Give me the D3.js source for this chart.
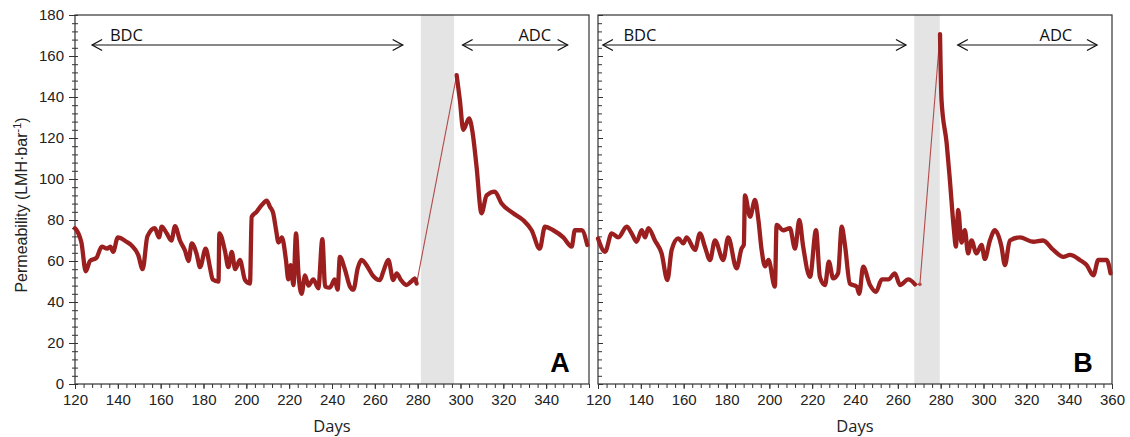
<!DOCTYPE html>
<html>
<head>
<meta charset="utf-8">
<script src="https://cdn.jsdelivr.net/npm/d3@7"></script>
<style>
  body { margin: 0; background: #fff; }
  svg { display: block; }
  .tick text { font-family: "Liberation Sans", Arial, sans-serif; font-size: 15px; fill: #222; }
</style>
</head>
<body>
<svg id="chart" width="1130" height="437"></svg>
<script>
// Panel A, before cleaning (BDC)
var daysA_BDC = [120, 123, 125, 127, 130, 132.5, 135, 136.5, 137.8, 140, 144, 146.5, 149.5, 151.6, 153.8, 157.3, 159.2, 160.5, 162.8, 165, 166.7, 169, 171.4, 173, 174.5, 176.8, 178.4, 181, 183, 184.3, 187, 187.4, 190, 191.6, 193.2, 194.8, 197, 199.4, 201.7, 202.5, 204.8, 207.2, 209.5, 211, 212.6, 213.9, 215, 216.6, 218.5, 219.6, 220.7, 222, 223.2, 224.4, 225.8, 227.4, 229, 231.3, 233.6, 235.5, 236.8, 239, 241.3, 242.6, 243.7, 246, 248.4, 250, 252, 253.8, 256.7, 259, 262.4, 264, 266.3, 268.6, 270.2, 272, 274.8, 277, 278.7, 279.5];
var permA_BDC = [76, 69, 55, 60, 61.5, 67, 66, 67, 64.5, 71.5, 69.4, 67.5, 63, 56, 72, 76, 71.5, 76.7, 73.5, 70, 77, 70, 65, 60, 68.6, 63.4, 57, 66, 57, 51, 50, 73.5, 65, 57, 64.5, 56, 60.5, 50.7, 49, 81.6, 84, 87.3, 89.4, 86.5, 83, 75, 69, 71.5, 60.5, 51, 58, 48.3, 73.5, 53, 44, 53, 48, 51, 46.7, 70.6, 47.5, 47, 51, 46, 62, 56, 47.5, 46, 56.4, 60.5, 57, 53, 50.7, 55, 60.5, 50.7, 54, 51, 48.3, 50, 51.5, 49];
// Panel A, after cleaning (ADC)
var daysA_ADC = [298.2, 299.7, 301.3, 304, 305.6, 307.5, 309.8, 312.2, 316, 319.2, 324.6, 329.2, 333.2, 337, 339.4, 343.3, 348, 351.9, 353.4, 356.6, 359.2];
var permA_ADC = [150.7, 138.5, 124, 129.6, 123, 106, 83.3, 92, 93.8, 88, 83.3, 80, 75, 66, 76.7, 75, 71.5, 67, 75, 75, 67.8];

// Panel B, before cleaning (BDC)
var daysB_BDC = [120, 123.3, 126.4, 129.5, 133.4, 135.7, 138, 140.4, 142, 143.5, 146.6, 149.7, 152.4, 154.4, 157.5, 159.8, 161.4, 165.3, 167.6, 169.9, 172.3, 174.6, 178.5, 180.8, 184.7, 187, 188.1, 188.6, 191, 193.3, 194.9, 196.4, 198, 199.6, 202.6, 203.4, 206.5, 209.6, 212, 214, 215.8, 219, 221.8, 223.6, 226, 227.8, 229.8, 232.1, 233.8, 235.4, 237.6, 240.8, 242, 243.8, 247, 249.8, 252.5, 255.6, 258.6, 261, 264.9, 268];
var permB_BDC = [71, 64.5, 73.5, 71.5, 76.7, 73.5, 69.4, 75, 71.5, 76, 70, 63.7, 50.7, 65.4, 71, 68.6, 71.5, 65.4, 73.5, 67, 60.5, 70, 60.5, 71.5, 56.4, 66, 68, 92, 81.6, 89.8, 80, 65.4, 57.4, 60.5, 47.5, 77.6, 75, 76, 66, 80, 67, 52.3, 75, 52.3, 48.3, 59.7, 51.5, 54, 76.7, 67, 49, 47.5, 44, 57.2, 48.3, 45, 51, 51, 54, 48.3, 51, 48.6];
// Panel B, single point inside the cleaning period
var daysB_gap = [270.3];
var permB_gap = [48.6];
// Panel B, after cleaning (ADC)
var daysB_ADC = [279.7, 280.4, 282.8, 284.3, 286.2, 287.1, 288.2, 289.7, 291.3, 292.8, 294.4, 296.7, 299.1, 300.6, 303, 305.3, 308.4, 310, 312.3, 317, 323.2, 327.8, 332.6, 337.3, 340.4, 345, 348.2, 351.3, 353.6, 357.5, 359.3];
var permB_ADC = [170.7, 138.5, 117.4, 99.5, 75, 67, 84.9, 69, 75, 63.7, 70, 63.7, 67.8, 61, 70, 75, 67, 58, 70, 71.5, 69.4, 70, 65.4, 62, 63, 60.5, 58, 53, 60.5, 60.5, 54];

// cleaning periods (shaded) in days
var cleanA = [281.5, 297];
var cleanB = [267.7, 279.6];

// annotation arrows in days: [start, end, label position]
var bdcA = [128, 273, 144], adcA = [301, 350, 334.7];
var bdcB = [122.3, 263.8, 139.6], adcB = [288, 353, 333.8];

var xTicksA = d3.range(120, 341, 20);
var xTicksB = d3.range(120, 361, 20);
var yTicks = d3.range(0, 181, 20);

var lineColor = "#9c1f1f";
var svg = d3.select("#chart");

var plotTop = 15, plotBottom = 384;
var y = d3.scaleLinear().domain([0, 180]).range([plotBottom, plotTop]);

function drawPanel(opt) {
    var x = d3.scaleLinear().domain([120, 360]).range([opt.left, opt.right]);
    var g = svg.append("g");

    // shaded cleaning period
    g.append("rect")
        .attr("x", x(opt.clean[0]))
        .attr("y", plotTop)
        .attr("width", x(opt.clean[1]) - x(opt.clean[0]))
        .attr("height", plotBottom - plotTop)
        .attr("fill", "#e4e4e4");

    // minor x ticks
    g.append("g")
        .attr("transform", "translate(0," + plotBottom + ")")
        .call(d3.axisBottom(x).tickValues(d3.range(120, 361, 4)).tickFormat("").tickSize(4).tickSizeOuter(0))
        .call(function(s) { s.select(".domain").remove(); s.selectAll("line").attr("stroke", "#333"); });
    // major x ticks
    g.append("g")
        .attr("transform", "translate(0," + plotBottom + ")")
        .call(d3.axisBottom(x).tickValues(opt.xTicks).tickFormat(d3.format("d")).tickSize(5).tickSizeOuter(0).tickPadding(5))
        .call(function(s) { s.select(".domain").remove(); s.selectAll("line").attr("stroke", "#333"); });

    // minor y ticks
    g.append("g")
        .attr("transform", "translate(" + opt.left + ",0)")
        .call(d3.axisLeft(y).tickValues(d3.range(0, 181, 4)).tickFormat("").tickSizeOuter(0))
        .call(function(s) {
            s.select(".domain").remove();
            s.selectAll("line").attr("stroke", "#333")
                .attr("x1", opt.yLabels ? -3 : 0).attr("x2", opt.yLabels ? 3 : 4);
        });
    // major y ticks
    g.append("g")
        .attr("transform", "translate(" + opt.left + ",0)")
        .call(d3.axisLeft(y).tickValues(yTicks).tickFormat(opt.yLabels ? d3.format("d") : "").tickSize(opt.yLabels ? 6 : -5).tickSizeOuter(0).tickPadding(5))
        .call(function(s) { s.select(".domain").remove(); s.selectAll("line").attr("stroke", "#333"); });

    // frame
    g.append("rect")
        .attr("x", opt.left).attr("y", plotTop)
        .attr("width", opt.right - opt.left).attr("height", plotBottom - plotTop)
        .attr("fill", "none").attr("stroke", "#333").attr("stroke-width", 1.2);

    var line = d3.line()
        .x(function(d) { return x(d[0]); })
        .y(function(d) { return y(d[1]); });
    var smooth = d3.line()
        .curve(d3.curveMonotoneX)
        .x(function(d) { return x(d[0]); })
        .y(function(d) { return y(d[1]); });

    var first = opt.segments[0], last = opt.segments[opt.segments.length - 1];

    // thin connector across the cleaning period
    var link = [first[first.length - 1]];
    if (opt.segments.length > 2) link = link.concat(opt.segments[1]);
    link.push(last[0]);
    g.append("path").datum(link)
        .attr("fill", "none").attr("stroke", "#b24a4a").attr("stroke-width", 1.1)
        .attr("d", line);

    // thick measured segments (BDC, ADC)
    [first, last].forEach(function(seg) {
        g.append("path").datum(seg)
            .attr("fill", "none").attr("stroke", lineColor).attr("stroke-width", 4.3)
            .attr("stroke-linejoin", "round").attr("stroke-linecap", "round")
            .attr("d", smooth);
    });
    if (opt.segments.length > 2) {
        g.selectAll(".gapdot").data(opt.segments[1]).enter().append("circle")
            .attr("cx", function(d) { return x(d[0]); })
            .attr("cy", function(d) { return y(d[1]); })
            .attr("r", 1.8).attr("fill", "#b24a4a");
    }

    // annotation arrows
    [[opt.bdc, "BDC"], [opt.adc, "ADC"]].forEach(function(a) {
        var x1 = x(a[0][0]), x2 = x(a[0][1]), ay = 45;
        g.append("line").attr("x1", x1).attr("x2", x2).attr("y1", ay).attr("y2", ay)
            .attr("stroke", "#111").attr("stroke-width", 1.2);
        g.append("path")
            .attr("d", "M" + (x1 + 10) + "," + (ay - 5.5) + "L" + x1 + "," + ay + "L" + (x1 + 10) + "," + (ay + 5.5) +
                       "M" + (x2 - 10) + "," + (ay - 5.5) + "L" + x2 + "," + ay + "L" + (x2 - 10) + "," + (ay + 5.5))
            .attr("fill", "none").attr("stroke", "#111").attr("stroke-width", 1.3);
        g.append("text").attr("x", x(a[0][2])).attr("y", 41)
            .attr("text-anchor", "middle")
            .style("font-family", "'Open Sans', 'Noto Sans', sans-serif").style("font-size", "16.5px").style("fill", "#111")
            .text(a[1]);
    });

    // panel letter
    g.append("text").attr("x", opt.right - 29).attr("y", 372)
        .attr("text-anchor", "middle")
        .style("font-family", "'Liberation Sans', Arial, sans-serif").style("font-size", "27px").style("font-weight", "bold")
        .text(opt.letter);

    // x label
    g.append("text").attr("x", (opt.left + opt.right) / 2).attr("y", 432)
        .attr("text-anchor", "middle")
        .style("font-family", "'Open Sans', 'Noto Sans', sans-serif").style("font-size", "16.5px").style("fill", "#222")
        .text("Days");
}

function zip(a, b) { return a.map(function(d, i) { return [d, b[i]]; }); }

drawPanel({
    left: 75, right: 589, letter: "A", yLabels: true, xTicks: xTicksA, clean: cleanA,
    bdc: bdcA, adc: adcA,
    segments: [zip(daysA_BDC, permA_BDC), zip(daysA_ADC, permA_ADC)]
});
drawPanel({
    left: 598, right: 1112, letter: "B", yLabels: false, xTicks: xTicksB, clean: cleanB,
    bdc: bdcB, adc: adcB,
    segments: [zip(daysB_BDC, permB_BDC), zip(daysB_gap, permB_gap), zip(daysB_ADC, permB_ADC)]
});

// y axis title
var yt = svg.append("text")
    .attr("transform", "translate(27,205) rotate(-90)")
    .attr("text-anchor", "middle")
    .style("font-family", "'Liberation Sans', Arial, sans-serif").style("font-size", "16px").style("fill", "#222");
yt.append("tspan").text("Permeability (LMH\u00b7bar");
yt.append("tspan").attr("dy", -6).style("font-size", "11px").text("-1");
yt.append("tspan").attr("dy", 6).text(")");
</script>
</body>
</html>
